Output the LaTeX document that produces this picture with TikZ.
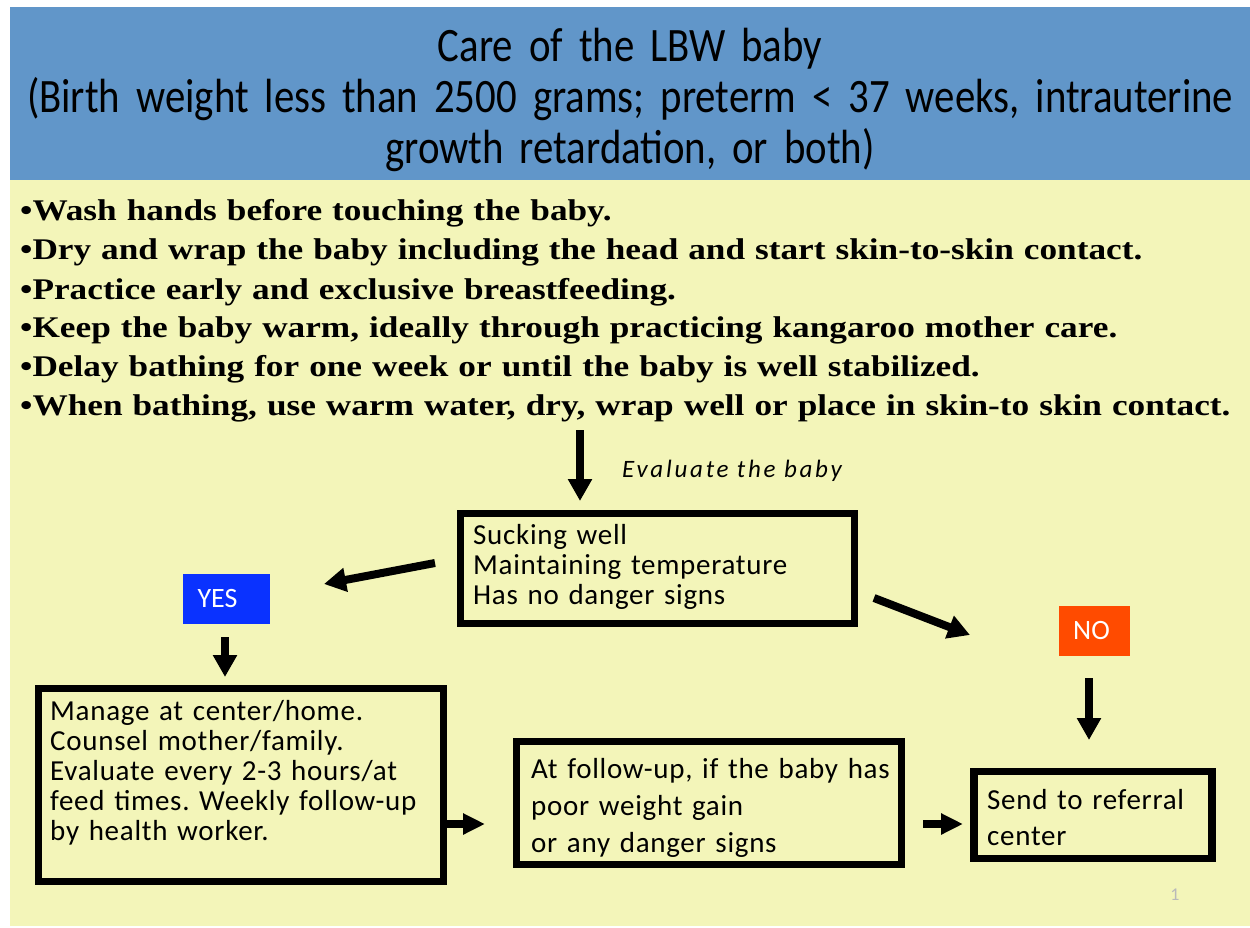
\documentclass[tikz,border=0pt]{standalone}
\usepackage{fontspec}
\setmainfont{Carlito}
\newfontfamily\titlefont[FakeStretch=0.85]{Carlito}
\newfontfamily\bulletfont[FakeStretch=1.175]{Liberation Serif}
\newfontfamily\boxfont[LetterSpace=2.5]{Carlito}
\newfontfamily\evalfont[LetterSpace=11]{Carlito}
\usetikzlibrary{arrows.meta}
\definecolor{hdrblue}{RGB}{97,150,201}
\definecolor{bgyellow}{RGB}{243,245,185}
\definecolor{yesblue}{RGB}{10,50,255}
\definecolor{noorange}{RGB}{255,75,0}
\tikzset{
  box/.style={draw=black, line width=7.5pt, fill=none, inner sep=0pt},
  boxtext/.style={anchor=base west, inner sep=0pt, text width=400pt, align=left,
    font=\boxfont\frenchspacing\fontsize{29}{30}\selectfont},
  arr/.style={line width=8pt, -{Triangle[width=23pt,length=22pt]}},
  tag/.style={inner sep=0pt, text=white, font=\fontsize{28}{30}\selectfont},
}
\begin{document}
\begin{tikzpicture}[x=1pt,y=-1pt]
\useasboundingbox (0,0) rectangle (1250,928);
\fill[white] (0,0) rectangle (1250,928);
\fill[hdrblue] (10,7) rectangle (1250,180);
\fill[bgyellow] (10,180) rectangle (1250,926);
% title
\node[anchor=base, inner sep=0pt, text width=1240pt, align=center,
  font=\titlefont\fontsize{48}{51}\selectfont] (title) at (630,62)
  {Care of the LBW baby\\(Birth weight less than 2500 grams; preterm < 37 weeks, intrauterine\\growth retardation, or both)};
% bullets
\node[anchor=base west, inner sep=0pt, text width=1230pt, align=left,
  font=\bulletfont\bfseries\fontsize{30}{39}\selectfont] (bullets) at (20,221)
  {•Wash hands before touching the baby.\\
   •Dry and wrap the baby including the head and start skin-to-skin contact.\\
   •Practice early and exclusive breastfeeding.\\
   •Keep the baby warm, ideally through practicing kangaroo mother care.\\
   •Delay bathing for one week or until the baby is well stabilized.\\
   •When bathing, use warm water, dry, wrap well or place in skin-to skin contact.};
% boxes
\node[box, minimum width=394pt, minimum height=110pt] (eval) at (657.5,568.5) {};
\node[boxtext] (evaltext) at (473,544)
  {Sucking well\\Maintaining temperature\\Has no danger signs};
\node[fill=yesblue, minimum width=87pt, minimum height=50pt, tag] (yes) at (226.5,599) {YES\hspace*{18pt}};
\node[fill=noorange, minimum width=71pt, minimum height=50pt, tag] (no) at (1094.5,630.5) {NO\hspace*{6pt}};
\node[box, minimum width=405pt, minimum height=193pt] (manage) at (241,785) {};
\node[boxtext] (managetext) at (50,720)
  {Manage at center/home.\\Counsel mother/family.\\Evaluate every 2-3 hours/at\\feed times. Weekly follow-up\\by health worker.};
\node[box, minimum width=385pt, minimum height=123pt] (follow) at (709,803) {};
\node[boxtext, font=\boxfont\frenchspacing\fontsize{29}{37}\selectfont] (followtext) at (531,778)
  {At follow-up, if the baby has\\poor weight gain\\or any danger signs};
\node[box, minimum width=238pt, minimum height=87pt] (send) at (1093,815) {};
\node[boxtext, font=\boxfont\frenchspacing\fontsize{29}{36}\selectfont] (sendtext) at (987,809)
  {Send to referral\\center};
\node[anchor=base west, inner sep=0pt, font=\evalfont\itshape\fontsize{25}{30}\selectfont] (evallabel) at (622,477) {Evaluate the baby};
\node[inner sep=0pt, text=gray!55, font=\fontsize{18}{20}\selectfont] (pagenum) at (1175,895) {1};
% arrow end points
\coordinate (a1s) at (580,430); \coordinate (a1e) at (580,501);
\coordinate (ays) at (435,563); \coordinate (aye) at (324,584);
\coordinate (ans) at (874,598); \coordinate (ane) at (970,635);
\coordinate (ayd) at (225,637); \coordinate (ayde) at (225,677);
\coordinate (and) at (1089,678); \coordinate (ande) at (1089,740);
\coordinate (amf) at (447,824); \coordinate (amfe) at (485,824);
\coordinate (afs) at (923,824); \coordinate (afse) at (963,824);
\draw[arr] (a1s) -- (a1e);
\draw[arr] (ays) -- (aye);
\draw[arr] (ans) -- (ane);
\draw[arr] (ayd) -- (ayde);
\draw[arr] (and) -- (ande);
\draw[arr, -{Triangle[width=20pt,length=22pt]}] (amf) -- (amfe);
\draw[arr, -{Triangle[width=20pt,length=22pt]}] (afs) -- (afse);
\end{tikzpicture}
\end{document}
